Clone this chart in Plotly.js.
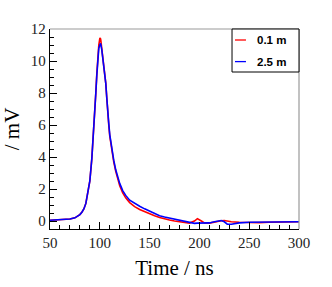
<!DOCTYPE html>
<html><head><meta charset="utf-8">
<script src="https://cdn.plot.ly/plotly-3.0.1.min.js"></script>
<style>html,body{margin:0;padding:0;background:#fff}#chart{width:332px;height:287px}</style>
</head><body><div id="chart"></div>
<script>
var timeNs = [50,60,70,75,78,80,82,84,86,88,90,92,94,95,96,97,98,99,100,100.5,101,102,103,104,105,106,107,108,109,110,112,114,116,118,120,123,126,130,135,140,145,150,155,160,165,170,175,180,185,190,195,198,202,205,210,215,220,222,225,228,232,240,250,260,270,280,290,300];
var red01 = [0.05,0.07,0.12,0.2,0.3,0.4,0.55,0.75,1.1,1.7,2.5,3.9,5.7,6.8,8.0,9.2,10.3,11.0,11.4,11.45,11.3,10.8,10.3,9.9,9.3,8.6,7.7,6.5,6.0,5.3,4.4,3.7,3.1,2.6,2.2,1.75,1.45,1.15,0.9,0.72,0.58,0.45,0.33,0.22,0.13,0.06,0.0,-0.05,-0.1,-0.13,0.0,0.15,0.0,-0.12,-0.13,-0.05,0.0,0.02,0.03,0.0,-0.05,-0.08,-0.1,-0.1,-0.08,-0.08,-0.07,-0.05];
var blue25 = [0.05,0.07,0.12,0.2,0.3,0.4,0.55,0.75,1.1,1.7,2.5,3.9,5.7,6.8,8.0,9.1,10.1,10.8,11.0,11.1,11.05,10.7,10.2,9.9,9.3,8.6,7.7,6.6,6.1,5.4,4.5,3.8,3.2,2.7,2.35,1.9,1.6,1.3,1.1,0.92,0.76,0.6,0.46,0.33,0.25,0.18,0.12,0.05,-0.05,-0.12,-0.15,-0.13,-0.13,-0.15,-0.12,-0.05,0.02,0.03,-0.05,-0.2,-0.2,-0.12,-0.08,-0.08,-0.08,-0.07,-0.06,-0.05];
var seriesNames = ["0.1 m","2.5 m"];
var seriesColors = ["#ff0000","#0000ff"];
var xTicks = [50,100,150,200,250,300];
var yTicks = [0,2,4,6,8,10,12];

var traces = [
  {x: timeNs, y: red01, mode: "lines", name: seriesNames[0], line: {color: seriesColors[0], width: 1.6}, showlegend: false},
  {x: timeNs, y: blue25, mode: "lines", name: seriesNames[1], line: {color: seriesColors[1], width: 1.6}, showlegend: false}
];

var serif = "Liberation Serif, Times New Roman, serif";
var legY = [0.945, 0.837];
var shapes = [
  {type:"line", xref:"paper", yref:"paper", x0:0, x1:1, y0:1, y1:1, line:{color:"#999", width:1.2}},
  {type:"line", xref:"paper", yref:"paper", x0:1, x1:1, y0:0, y1:1, line:{color:"#999", width:1.2}},
  {type:"rect", xref:"paper", yref:"paper", x0:0.731, x1:1, y0:0.785, y1:1, line:{color:"#000", width:1}, fillcolor:"#fff", layer:"above"}
];
var annotations = [];
seriesNames.forEach(function(n, i){
  shapes.push({type:"line", xref:"paper", yref:"paper", x0:0.743, x1:0.787, y0:legY[i], y1:legY[i], line:{color:seriesColors[i], width:1.3}, layer:"above"});
  annotations.push({xref:"paper", yref:"paper", x:0.825, y:legY[i], xanchor:"left", yanchor:"middle", text:"<b>"+n+"</b>", showarrow:false, font:{family:"Liberation Sans, Arial, sans-serif", size:11.5, color:"#000"}});
});

var layout = {
  width: 332, height: 287,
  margin: {l: 50, r: 33, t: 29, b: 58},
  paper_bgcolor: "#fff", plot_bgcolor: "#fff",
  xaxis: {
    range: [50, 300], tickvals: xTicks, ticks: "inside", ticklen: 7, tickwidth: 1, tickcolor: "#000",
    minor: {dtick: 10, ticks: "inside", ticklen: 4, tickcolor: "#000", showgrid: false},
    showgrid: false, zeroline: false, showline: true, linecolor: "#000", linewidth: 1.2,
    tickfont: {family: serif, size: 15, color: "#222"},
    title: {text: "Time / ns", font: {family: serif, size: 21, color: "#000"}, standoff: 10}
  },
  yaxis: {
    range: [-0.5, 12], tickvals: yTicks, ticks: "inside", ticklen: 7, tickwidth: 1, tickcolor: "#000",
    minor: {dtick: 0.5, ticks: "inside", ticklen: 4, tickcolor: "#000", showgrid: false},
    showgrid: false, zeroline: false, showline: true, linecolor: "#000", linewidth: 1.2,
    tickfont: {family: serif, size: 15, color: "#222"},
    title: {text: "/ mV", font: {family: serif, size: 21, color: "#000"}, standoff: 6}
  },
  shapes: shapes,
  annotations: annotations,
  showlegend: false
};
Plotly.newPlot("chart", traces, layout, {displayModeBar: false, staticPlot: true});
</script></body></html>
